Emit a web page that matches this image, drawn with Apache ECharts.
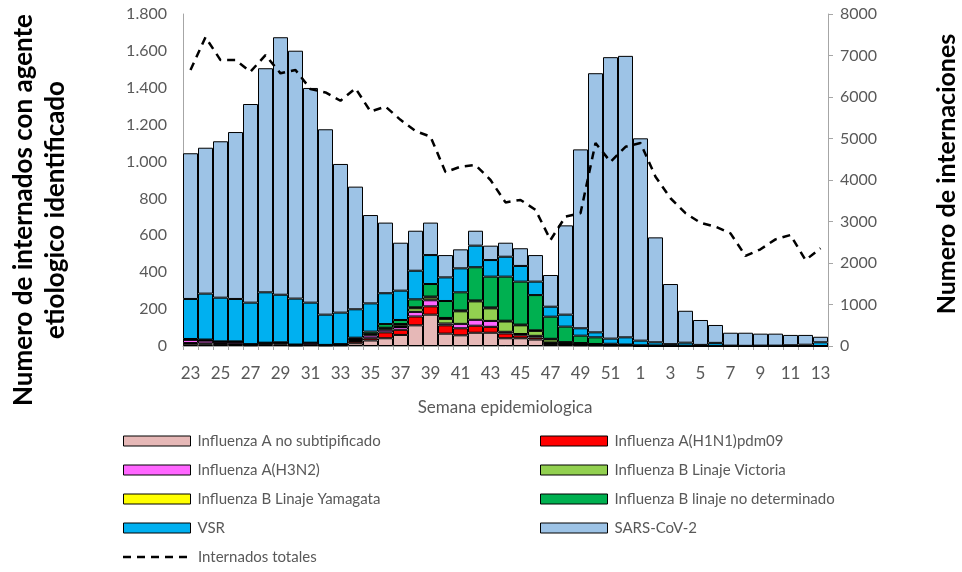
<!DOCTYPE html>
<html>
<head>
<meta charset="utf-8">
<script src="https://cdn.jsdelivr.net/npm/echarts@6/dist/echarts.min.js"></script>
<style>
  html, body { margin: 0; padding: 0; background: #fff; }
  #chart { width: 962px; height: 572px; }
</style>
</head>
<body>
<div id="chart"></div>
<script>
// semanas epidemiologicas 23..52 y 1..13
const weeks = ['23','24','25','26','27','28','29','30','31','32','33','34','35','36','37','38','39','40','41','42','43','44','45','46','47','48','49','50','51','52','1','2','3','4','5','6','7','8','9','10','11','12','13']

const fluANoSub = [12,8,8,7,4,10,8,3,5,3,4,15,30,42,60,112,170,67,58,72,72,42,42,35,11,5,4,3,2,2,1,1,0,0,0,0,0,0,0,0,0,0,0]
const fluAH1N1 = [4,6,3,3,2,3,6,2,2,1,3,12,12,32,28,48,45,45,38,38,32,26,16,11,5,4,3,2,1,1,0,0,0,0,0,0,0,0,0,0,0,0,0]
const fluAH3N2 = [18,15,12,13,4,5,4,3,11,2,2,6,15,14,15,25,33,10,24,32,32,9,7,9,3,2,2,1,0,0,0,0,0,0,0,0,0,0,0,0,0,0,0]
const fluBVic = [0,2,0,0,0,0,0,0,0,0,0,4,6,8,12,20,15,25,68,100,68,56,47,27,17,8,6,4,2,1,0,0,0,0,0,0,0,0,0,0,0,0,0]
const fluBYam = [0,0,0,0,0,0,0,0,0,0,0,3,3,3,4,5,5,5,5,5,5,4,4,3,3,2,1,1,0,0,0,0,0,0,0,0,0,0,0,0,0,0,0]
const fluBNd = [4,4,2,2,0,0,2,0,0,0,1,5,12,20,22,43,68,92,98,180,167,239,233,191,120,84,40,36,7,4,3,2,2,2,1,1,0,0,0,0,0,0,0]
const vsr = [217,249,237,230,225,273,258,249,217,164,171,154,153,167,159,155,157,128,130,117,90,108,85,73,54,65,40,27,28,39,25,17,8,16,5,16,2,1,2,2,4,7,20]
const sarsCov2 = [790,791,848,905,1077,1215,1396,1344,1164,1005,806,665,479,383,260,217,176,121,103,81,78,76,96,144,172,484,970,1405,1526,1526,1097,569,326,173,135,97,70,71,65,65,56,53,30]
const internadosTotales = [6650,7440,6890,6890,6610,7010,6570,6650,6190,6110,5910,6210,5650,5770,5450,5180,5045,4190,4320,4360,4000,3460,3520,3280,2555,3120,3200,4890,4440,4800,4890,4080,3560,3200,2970,2875,2715,2170,2330,2570,2675,2070,2355]

const leftTicks = { min: 0, max: 1800, interval: 200 }
const rightTicks = { min: 0, max: 8000, interval: 1000 }

const font = 'Lato, "Open Sans", sans-serif'
const grey = '#595959'
const axisGrey = '#A6A6A6'
const dash = [8, 6]

const barSeries = [
  { name: 'Influenza A no subtipificado', data: fluANoSub, color: '#E6B8B7' },
  { name: 'Influenza A(H1N1)pdm09', data: fluAH1N1, color: '#FF0000' },
  { name: 'Influenza A(H3N2)', data: fluAH3N2, color: '#FF66FF' },
  { name: 'Influenza B Linaje Victoria', data: fluBVic, color: '#92D050' },
  { name: 'Influenza B Linaje Yamagata', data: fluBYam, color: '#FFFF00' },
  { name: 'Influenza B linaje no determinado', data: fluBNd, color: '#00B050' },
  { name: 'VSR', data: vsr, color: '#00B0F0' },
  { name: 'SARS-CoV-2', data: sarsCov2, color: '#9DC3E6' }
].map(s => ({
  name: s.name,
  type: 'bar',
  stack: 'agentes',
  data: s.data,
  barCategoryGap: '0%',
  itemStyle: { color: s.color, borderColor: '#000', borderWidth: 1 },
  emphasis: { disabled: true }
}))

// separador de miles con punto, como en el original
function miles(v) {
  if (v >= 1000) {
    return Math.floor(v / 1000) + '.' + String(v % 1000).padStart(3, '0')
  }
  return String(v)
}

const chart = echarts.init(document.getElementById('chart'), null, { renderer: 'canvas' })

const legendBase = {
  orient: 'vertical',
  top: 432,
  height: 140,
  padding: 0,
  itemWidth: 67,
  itemHeight: 10,
  itemGap: 11,
  icon: 'rect',
  itemStyle: { borderWidth: 1, borderColor: '#000' },
  textStyle: { fontFamily: font, fontSize: 15, color: grey, lineHeight: 18, padding: [0, 0, 0, 2] }
}

chart.setOption({
  animation: false,
  textStyle: { fontFamily: font },
  grid: { left: 183, right: 134, top: 14, bottom: 226 },
  legend: [
    Object.assign({}, legendBase, {
      left: 123,
      data: ['Influenza A no subtipificado', 'Influenza A(H3N2)', 'Influenza B Linaje Yamagata', 'VSR']
    }),
    Object.assign({}, legendBase, {
      left: 540,
      data: ['Influenza A(H1N1)pdm09', 'Influenza B Linaje Victoria', 'Influenza B linaje no determinado', 'SARS-CoV-2']
    })
  ],
  xAxis: {
    type: 'category',
    data: weeks,
    axisLine: { lineStyle: { color: axisGrey, width: 1 } },
    axisTick: { show: true, interval: 0, length: 4, lineStyle: { color: axisGrey } },
    axisLabel: { interval: 1, fontFamily: font, fontSize: 17, color: grey, margin: 19 }
  },
  yAxis: [
    {
      type: 'value',
      min: leftTicks.min,
      max: leftTicks.max,
      interval: leftTicks.interval,
      splitLine: { show: false },
      axisLine: { show: true, lineStyle: { color: axisGrey } },
      axisTick: { show: false },
      axisLabel: { formatter: miles, fontFamily: font, fontSize: 16, color: grey, margin: 16 }
    },
    {
      type: 'value',
      min: rightTicks.min,
      max: rightTicks.max,
      interval: rightTicks.interval,
      splitLine: { show: false },
      axisLine: { show: true, lineStyle: { color: axisGrey } },
      axisTick: { show: true, length: 5, lineStyle: { color: axisGrey } },
      axisLabel: { formatter: v => String(v), fontFamily: font, fontSize: 16, color: grey, margin: 12 }
    }
  ],
  series: [
    ...barSeries,
    {
      name: 'Internados totales',
      type: 'line',
      yAxisIndex: 1,
      data: internadosTotales,
      symbol: 'none',
      z: 10,
      lineStyle: { color: '#000', width: 2.5, type: dash },
      itemStyle: { color: '#000' },
      emphasis: { disabled: true }
    }
  ],
  graphic: [
    {
      type: 'text',
      x: 40, y: 210,
      rotation: Math.PI / 2,
      style: {
        text: 'Numero de internados con agente\netiologico identificado',
        fontFamily: font, fontSize: 26, fontWeight: 'bold', fill: '#000',
        align: 'center', verticalAlign: 'middle', lineHeight: 32
      }
    },
    {
      type: 'text',
      x: 947, y: 174,
      rotation: Math.PI / 2,
      style: {
        text: 'Numero de internaciones',
        fontFamily: font, fontSize: 25, fontWeight: 'bold', fill: '#000',
        align: 'center', verticalAlign: 'middle'
      }
    },
    {
      type: 'text',
      x: 505, y: 408,
      style: {
        text: 'Semana epidemiologica',
        fontFamily: font, fontSize: 17, fill: grey,
        align: 'center', verticalAlign: 'middle'
      }
    },
    // entrada de leyenda de la linea punteada
    {
      type: 'line',
      shape: { x1: 123, y1: 557, x2: 190, y2: 557 },
      style: { stroke: '#000', lineWidth: 2.5, lineDash: dash }
    },
    {
      type: 'text',
      x: 198, y: 557,
      style: {
        text: 'Internados totales',
        fontFamily: font, fontSize: 15, fill: grey,
        align: 'left', verticalAlign: 'middle'
      }
    }
  ]
})
</script>
</body>
</html>
